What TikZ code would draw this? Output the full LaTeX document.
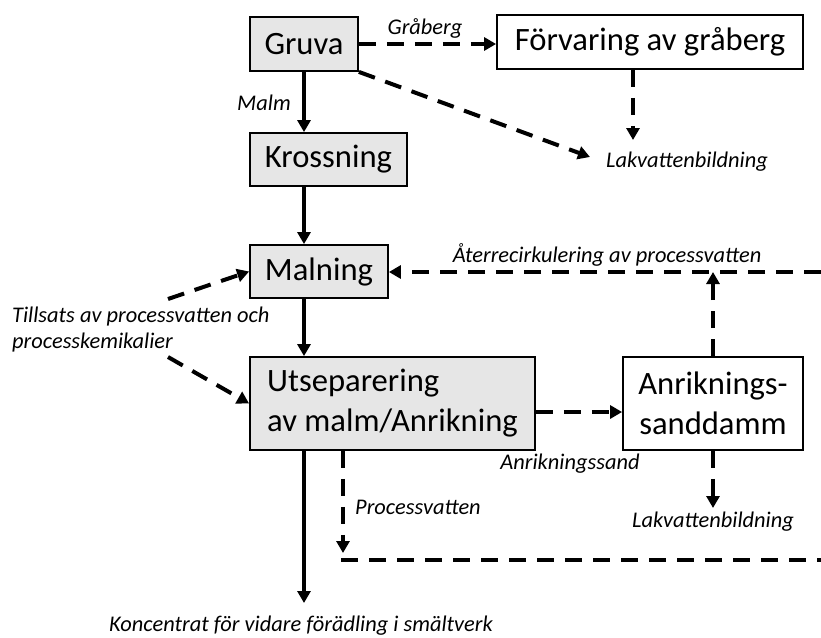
\documentclass[tikz,border=0pt]{standalone}
\usepackage{fontspec}
\setmainfont{Carlito}
\usetikzlibrary{arrows.meta}
\definecolor{boxgray}{RGB}{230,230,230}

\tikzset{
  box/.style={draw, line width=1.8pt, inner sep=0pt, font=\fontsize{32.6}{40}\selectfont},
  gbox/.style={box, fill=boxgray},
  lbl/.style={inner sep=0pt, font=\fontsize{22.4}{26}\selectfont\itshape},
  flow/.style={line width=3.5pt, -{Triangle[length=12pt,width=13pt]}},
  dflow/.style={line width=4pt, dash pattern=on 17pt off 11pt, -{Triangle[length=12pt,width=13pt]}},
  dline/.style={line width=4pt, dash pattern=on 17pt off 11pt}
}

\begin{document}
\begin{tikzpicture}[x=1pt,y=-1pt]
\useasboundingbox (0,0) rectangle (821,637);
% boxes
\node [gbox, minimum width=108, minimum height=54] (gruva) at (304,44) {Gruva};
\node [gbox, minimum width=157, minimum height=53] (krossning) at (328.5,159.5) {Krossning};
\node [gbox, minimum width=138, minimum height=53] (malning) at (319,271.5) {Malning};
\node [gbox, minimum width=285, minimum height=93, align=left] (utsep) at (392.5,403.5) {Utseparering\\av malm/Anrikning};
\node [box, minimum width=306, minimum height=54] (forvaring) at (650,42) {F\"orvaring av gr\aa berg};
\node [box, minimum width=180, minimum height=93, align=center] (anrik) at (713,403.5) {Anriknings-\\sanddamm};
% free ends
\coordinate (kout) at (304,603);
\coordinate (lak1tip) at (590,157);
\coordinate (fvtip) at (633,140);
\coordinate (tills1) at (168,299);
\coordinate (tills2) at (168,357);
\coordinate (sandy) at (580,412);
\coordinate (recircstart) at (821,272);
\coordinate (lak2tip) at (713,508);
\coordinate (pvtip) at (343,553);
\coordinate (pvcorner) at (341,560);
\coordinate (pvend) at (821,560);
% labels
\node [lbl] (graberg) at (425,28) {Gr\aa berg};
\node [lbl] (malm) at (264,103) {Malm};
\node [lbl] (lak1) at (687,162) {Lakvattenbildning};
\node [lbl] (recirc) at (607,255) {\AA terrecirkulering av processvatten};
\node [lbl, anchor=west, align=left] (tillsats) at (12,330) {Tillsats av processvatten och\\processkemikalier};
\node [lbl] (anrsand) at (570,464) {Anrikningssand};
\node [lbl, anchor=west] (pvlabel) at (355,507) {Processvatten};
\node [lbl] (lak2) at (713,522) {Lakvattenbildning};
\node [lbl] (konc) at (301,626) {Koncentrat f\"or vidare f\"or\"adling i sm\"altverk};
% main line
\draw [flow] (gruva.south) -- (gruva.south |- krossning.north);
\draw [flow] (krossning.south -| gruva.south) -- (malning.north -| gruva.south);
\draw [flow] (malning.south -| gruva.south) -- (utsep.north -| gruva.south);
\draw [flow] (utsep.south -| gruva.south) -- (kout);
% side flows
\draw [dflow] (gruva.east) -- (gruva.east -| forvaring.west);
\draw [dflow] (gruva.south east) -- (lak1tip);
\draw [dflow] (forvaring.south -| fvtip) -- (fvtip);
\draw [dflow] (tills1) -- (malning.west);
\draw [dflow] (tills2) -- (utsep.west);
\draw [dflow] (utsep.east |- sandy) -- (anrik.west |- sandy);
\draw [dflow] (anrik.north) -- (anrik.north |- recircstart);
\draw [dflow] (recircstart) -- (malning.east |- recircstart);
\draw [dflow] (anrik.south) -- (lak2tip);
\draw [dflow] (utsep.south -| pvtip) -- (pvtip);
\draw [dline] (pvcorner) -- (pvend);
\end{tikzpicture}
\end{document}
